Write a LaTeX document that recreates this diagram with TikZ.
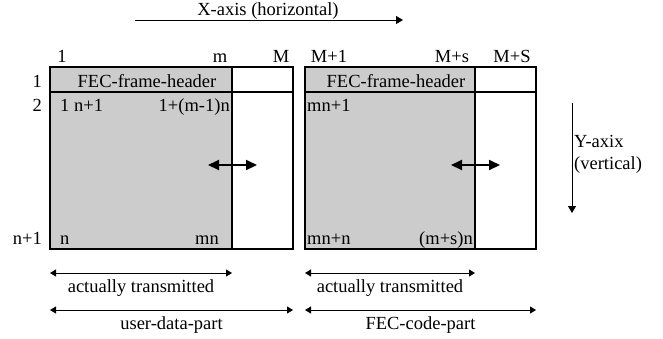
\documentclass[tikz,border=0pt]{standalone}
\usepackage{fontspec}
\setmainfont{Liberation Serif}
\usetikzlibrary{arrows.meta, positioning}
\definecolor{cellgray}{gray}{0.8}

\begin{document}
\begin{tikzpicture}[x=1pt, y=-1pt,
      every node/.style={font=\fontsize{18.5}{22}\selectfont, inner sep=1pt},
      cell/.style={draw, line width=1.4pt, outer sep=0pt, inner sep=0pt,
                   minimum height=182pt},
      datacell/.style={cell, fill=cellgray},
      axarr/.style={-{Triangle[length=7pt, width=8pt]}, line width=0.9pt},
      dimarr/.style={{Triangle[length=6pt, width=7pt]}-{Triangle[length=6pt, width=7pt]},
                     line width=0.9pt},
      boldarr/.style={{Triangle[length=11pt, width=10pt]}-{Triangle[length=11pt, width=10pt]},
                      line width=2pt},
    ]
    \useasboundingbox (0,0) rectangle (663,338);

    % -- axes --
    \coordinate (xstart) at (135,20);
    \coordinate (xend)   at (403,20);
    \draw[axarr] (xstart) -- (xend);
    \node[anchor=base] (xlabel) at (268,15.5) {X-axis (horizontal)};

    \coordinate (ystart) at (572,103);
    \coordinate (yend)   at (572,213);
    \draw[axarr] (ystart) -- (yend);
    \node[anchor=north west, align=left] (ylabel) at (573,134) {Y-axix\\(vertical)};

    % -- frame: user data + padding, FEC code + padding --
    \node[datacell, minimum width=182pt, anchor=north west] (udata) at (50,67) {};
    \node[cell, minimum width=61pt, right=0pt of udata] (upad) {};
    \node[datacell, minimum width=170pt, right=12pt of upad] (fdata) {};
    \node[cell, minimum width=61pt, right=0pt of fdata] (fpad) {};

    % header row
    \draw[line width=1.4pt] ([yshift=-25pt]udata.north west) -- ([yshift=-25pt]upad.north east);
    \draw[line width=1.4pt] ([yshift=-25pt]fdata.north west) -- ([yshift=-25pt]fpad.north east);
    \node[anchor=base] (uhdr) at ([xshift=6pt, yshift=-20pt]udata.north) {FEC-frame-header};
    \node[anchor=base] (fhdr) at ([xshift=6pt, yshift=-20pt]fdata.north) {FEC-frame-header};

    % column numbers
    \node[anchor=base] (c1)  at ([xshift=12pt, yshift=4.5pt]udata.north west) {1};
    \node[anchor=base] (cm)  at ([xshift=-12pt, yshift=4.5pt]udata.north east) {m};
    \node[anchor=base] (cM)  at ([xshift=-12pt, yshift=4.5pt]upad.north east) {M};
    \node[anchor=base] (cM1) at ([xshift=24pt, yshift=4.5pt]fdata.north west) {M+1};
    \node[anchor=base] (cMs) at ([xshift=-23pt, yshift=4.5pt]fdata.north east) {M+s};
    \node[anchor=base] (cMS) at ([xshift=-24pt, yshift=4.5pt]fpad.north east) {M+S};

    % row numbers
    \node[anchor=base east] (r1) at ([xshift=-7pt, yshift=-20pt]udata.north west) {1};
    \node[anchor=base east] (r2) at ([xshift=-7pt, yshift=-44pt]udata.north west) {2};
    \node[anchor=base east] (rn) at ([xshift=-7pt, yshift=4.5pt]udata.south west) {n+1};

    % byte indices
    \node[anchor=base west] (u21) at ([xshift=9pt, yshift=-44pt]udata.north west) {1 n+1};
    \node[anchor=base east] (u2m) at ([xshift=-1pt, yshift=-44pt]udata.north east) {1+(m-1)n};
    \node[anchor=base west] (f21) at ([xshift=1pt, yshift=-44pt]fdata.north west) {mn+1};
    \node[anchor=base west] (un1) at ([xshift=9pt, yshift=4.5pt]udata.south west) {n};
    \node[anchor=base east] (unm) at ([xshift=-12pt, yshift=4.5pt]udata.south east) {mn};
    \node[anchor=base west] (fn1) at ([xshift=1pt, yshift=4.5pt]fdata.south west) {mn+n};
    \node[anchor=base east] (fnm) at ([xshift=-1pt, yshift=4.5pt]fdata.south east) {(m+s)n};

    % variable boundary
    \draw[boldarr] ([xshift=-24pt, yshift=-7pt]udata.east) -- ([xshift=25pt, yshift=-7pt]udata.east);
    \draw[boldarr] ([xshift=-24pt, yshift=-7pt]fdata.east) -- ([xshift=25pt, yshift=-7pt]fdata.east);

    % extents
    \draw[dimarr] ([yshift=-24pt]udata.south west) -- ([yshift=-24pt]udata.south east)
      node[pos=0.5, anchor=base, yshift=-19pt] (utx) {actually transmitted};
    \draw[dimarr] ([yshift=-24pt]fdata.south west) -- ([yshift=-24pt]fdata.south east)
      node[pos=0.5, anchor=base, yshift=-19pt] (ftx) {actually transmitted};
    \draw[dimarr] ([yshift=-61pt]udata.south west) -- ([yshift=-61pt]upad.south east)
      node[pos=0.5, anchor=base, yshift=-19pt] (upart) {user-data-part};
    \draw[dimarr] ([yshift=-61pt]fdata.south west) -- ([yshift=-61pt]fpad.south east)
      node[pos=0.5, anchor=base, yshift=-19pt] (fpart) {FEC-code-part};
  \end{tikzpicture}
\end{document}
